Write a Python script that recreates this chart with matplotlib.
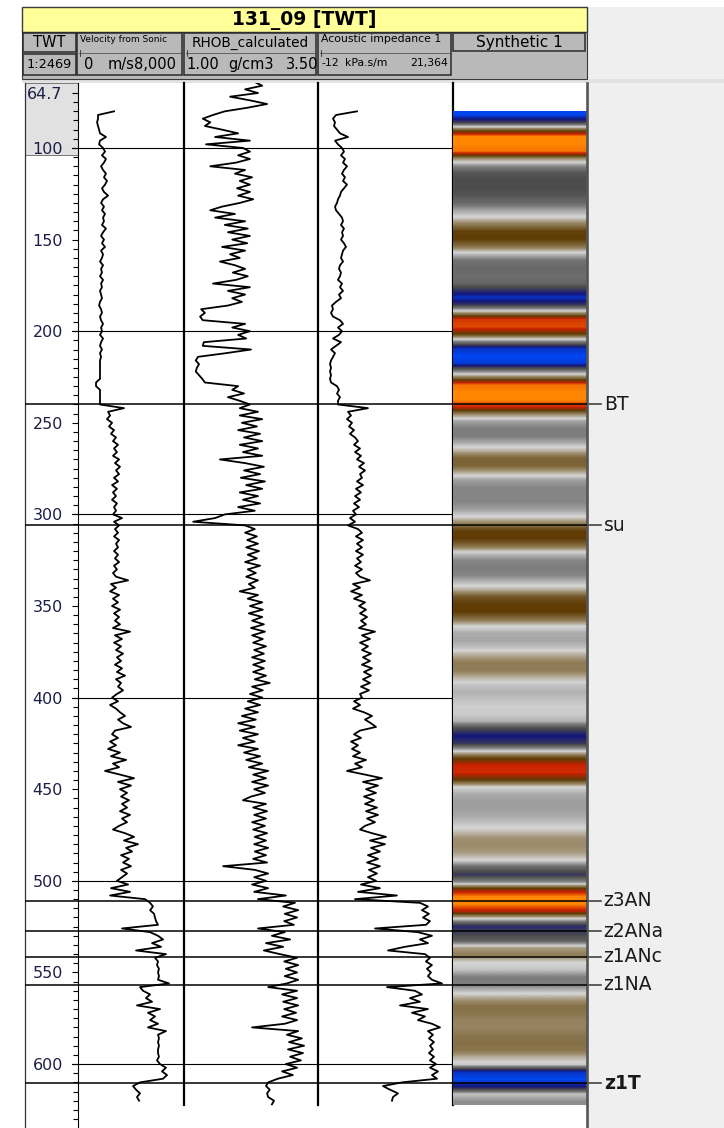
import numpy as np
import matplotlib.pyplot as plt
import matplotlib.transforms as mtransforms
from matplotlib.colors import LinearSegmentedColormap
from matplotlib.patches import Rectangle
from matplotlib.ticker import FixedLocator, FixedFormatter

plt.rcParams['font.family'] = ['DejaVu Sans']

W, H = 724, 1128
TWT_TOP, TWT_BOTTOM = 64.7, 634.9
TRACK_END = 622.5

# ---- log data, TWT in ms ----
vel_start, vel_step = 80, 2          # Velocity from Sonic [m/s]
velocity = [
    2720, 1510, 1510, 1440, 1510, 1590, 1660, 2110, 1660, 1590,
    1890, 2040, 1810, 2110, 1960, 1740, 1890, 2110, 1960, 2190,
    2040, 1810, 1960, 2270, 1890, 1740, 1960, 1810, 2040, 1890,
    1960, 1810, 2110, 1890, 1740, 1960, 1810, 2040, 1740, 1890,
    1810, 1660, 1890, 1740, 1810, 1660, 1890, 1740, 1810, 1660,
    1740, 1810, 1660, 1590, 1740, 1810, 1660, 1740, 1890, 1740,
    1810, 1660, 1890, 1740, 1660, 1810, 1660, 1740, 1660, 1660,
    1660, 1660, 1660, 1660, 1360, 1360, 1660, 1660, 1660, 1660,
    1660, 3470, 2270, 2420, 2190, 2570, 2340, 2720, 2490, 2870,
    2640, 3020, 2720, 2940, 2640, 3100, 2790, 3170, 2870, 3100,
    2720, 3020, 2570, 2940, 2640, 2870, 2570, 2940, 2720, 2870,
    2640, 3320, 2720, 3100, 2790, 3020, 2720, 3100, 2870, 3020,
    2720, 3020, 2790, 3100, 2720, 2940, 2640, 2870, 3780, 2490,
    2870, 2420, 3100, 2640, 3020, 2570, 3170, 2720, 3100, 2790,
    3170, 2640, 3930, 2790, 3320, 2720, 3250, 2870, 3400, 2940,
    3250, 2790, 3320, 2940, 3550, 2870, 3250, 3020, 3400, 2940,
    2570, 3020, 2420, 2870, 3170, 3550, 3020, 3400, 4000, 2790,
    2570, 3020, 2420, 2870, 2270, 3170, 2490, 3630, 2640, 3100,
    2040, 3170, 4230, 3020, 4000, 3170, 3700, 3250, 3850, 3320,
    3700, 3170, 3930, 3320, 3700, 3100, 2640, 3550, 4230, 3470,
    4530, 3630, 4080, 3250, 3850, 3400, 4000, 3250, 3700, 3320,
    2940, 3780, 2490, 3930, 2420, 5060, 5440, 5660, 5440, 5740,
    5810, 5890, 6040, 3320, 5440, 6040, 6420, 5590, 6270, 4380,
    6640, 5810, 6040, 5960, 6110, 6040, 6110, 6040, 6870, 4680,
    4910, 5440, 5130, 5590, 4450, 6190, 5280, 5810, 5440, 6040,
    5280, 6640, 6040, 6110, 6040, 6110, 6040, 6040, 6110, 5960,
    6190, 6640, 6340, 6720, 6420, 4680, 4150, 4380, 4680, 4450,
    4610,
]

rhob_start, rhob_step = 64, 2        # RHOB_calculated [g/cm3]
rhob = [
    2.32, 2.46, 2.14, 2.38, 1.86, 2.23, 2.55, 2.19, 1.76, 1.54,
    1.35, 1.49, 1.39, 1.71, 2.01, 1.58, 2.23, 1.41, 2.10, 2.23,
    2.01, 2.23, 1.97, 1.49, 2.14, 1.95, 2.27, 2.04, 2.23, 1.99,
    2.23, 2.01, 2.29, 2.04, 1.71, 1.49, 1.95, 1.58, 2.14, 1.76,
    2.19, 1.82, 2.23, 1.90, 2.18, 1.71, 2.14, 1.86, 2.04, 1.67,
    1.95, 2.14, 1.91, 2.19, 1.97, 1.54, 2.23, 1.82, 2.14, 1.90,
    2.08, 1.82, 1.32, 1.39, 1.30, 1.35, 2.14, 1.90, 2.23, 2.01,
    2.16, 1.37, 1.35, 2.25, 1.78, 1.26, 1.22, 1.28, 1.24, 1.22,
    1.28, 1.34, 1.39, 2.01, 1.90, 2.12, 1.82, 2.04, 2.23, 2.04,
    2.38, 2.04, 2.46, 2.08, 2.36, 2.01, 2.42, 2.12, 2.46, 2.04,
    2.38, 2.10, 2.46, 1.67, 2.14, 2.49, 2.12, 2.42, 2.06, 2.51,
    2.16, 2.46, 2.04, 2.38, 2.10, 2.42, 2.01, 2.32, 1.76, 1.58,
    1.17, 2.14, 2.32, 2.14, 2.36, 2.18, 2.38, 2.16, 2.40, 2.19,
    2.36, 2.14, 2.42, 2.19, 2.34, 2.16, 2.38, 2.21, 2.32, 2.04,
    2.38, 2.19, 2.46, 2.23, 2.47, 2.21, 2.46, 2.27, 2.49, 2.25,
    2.51, 2.27, 2.47, 2.29, 2.53, 2.31, 2.49, 2.27, 2.51, 2.29,
    2.49, 2.29, 2.53, 2.32, 2.60, 2.27, 2.47, 2.23, 2.46, 2.19,
    2.42, 2.14, 2.38, 2.08, 2.34, 2.01, 2.32, 2.04, 2.38, 2.10,
    2.32, 2.01, 2.38, 2.12, 2.42, 2.16, 2.46, 2.21, 2.57, 2.29,
    2.53, 2.27, 2.57, 2.31, 2.51, 2.25, 2.10, 2.53, 2.29, 2.55,
    2.31, 2.53, 2.27, 2.51, 2.29, 2.55, 2.32, 2.53, 2.31, 2.57,
    2.32, 2.53, 2.29, 2.55, 1.73, 2.32, 2.57, 2.31, 2.53, 2.27,
    2.57, 2.31, 2.90, 2.38, 3.07, 2.85, 3.13, 2.88, 3.11, 2.87,
    3.05, 2.38, 2.88, 2.64, 2.98, 2.53, 2.85, 2.49, 2.79, 3.11,
    2.87, 3.13, 2.90, 3.11, 2.88, 3.13, 2.92, 2.57, 3.11, 2.83,
    3.11, 2.85, 3.13, 2.87, 3.09, 2.83, 3.11, 2.88, 2.27, 3.13,
    2.92, 3.20, 2.96, 3.24, 2.94, 3.22, 2.98, 3.18, 2.90, 3.11,
    2.83, 3.03, 2.75, 2.57, 2.53, 2.60, 2.55, 2.57, 2.68, 2.64,
]

ai_start, ai_step = 80, 2            # Acoustic impedance 1 [kPa.s/m]
impedance = [
    6160, 2840, 2360, 2680, 2520, 3000, 3470, 4740, 2680, 3150,
    3790, 4100, 3630, 4260, 3950, 4580, 4100, 3790, 4260, 3950,
    4580, 4100, 3630, 3470, 3150, 3000, 2680, 2840, 3310, 3790,
    3950, 3630, 4100, 3790, 3950, 3630, 4100, 4420, 3950, 3790,
    3630, 3950, 3470, 3310, 3630, 3470, 3150, 3790, 3470, 3950,
    3310, 3630, 2840, 2200, 2360, 2050, 2360, 3470, 3950, 3150,
    3790, 3310, 2360, 3630, 2840, 2050, 2680, 2360, 2050, 1890,
    2050, 1890, 2050, 1890, 2050, 3000, 3310, 3000, 3470, 3150,
    3150, 7900, 4740, 5210, 4580, 5370, 4900, 5690, 5050, 5850,
    6320, 5690, 6640, 5850, 6790, 6160, 7270, 6480, 7430, 6640,
    6950, 6160, 7110, 6000, 6790, 5850, 6640, 5690, 6480, 5530,
    6000, 5050, 5850, 4740, 6320, 6950, 6000, 7110, 6160, 6950,
    6000, 7110, 6160, 6790, 5850, 6950, 6000, 6640, 8220, 5530,
    6640, 5210, 6950, 5690, 7430, 6480, 7590, 6640, 7750, 6790,
    7590, 6480, 9010, 6950, 8220, 6640, 7900, 6950, 8380, 7110,
    8220, 6950, 8540, 7270, 8380, 7110, 8220, 6790, 8060, 6640,
    6950, 5690, 6640, 5530, 7270, 8540, 7430, 8380, 9170, 6640,
    5690, 6790, 5210, 6320, 5370, 6640, 5530, 7590, 5850, 6950,
    4580, 7430, 10120, 7110, 9490, 7590, 9170, 7270, 8850, 7430,
    9330, 7590, 9490, 7750, 9010, 7430, 6640, 8540, 10750, 8220,
    10590, 8380, 9800, 7900, 9490, 7750, 9800, 8060, 9330, 7900,
    9170, 6790, 9800, 6320, 12490, 5850, 16130, 17400, 16450, 17560,
    16610, 17720, 17080, 9010, 15820, 18030, 16130, 17400, 13760, 11070,
    16920, 17720, 17080, 18030, 17240, 17870, 17400, 18030, 19620, 10910,
    15340, 16450, 14550, 16130, 12970, 17400, 14870, 16920, 15820, 18030,
    19300, 17400, 18190, 17560, 18350, 17720, 18190, 17560, 18350, 17720,
    18670, 17720, 18990, 18030, 18830, 13290, 10280, 11390, 12650, 11860,
    11700,
]

synth_start, synth_step = 80, 4      # Synthetic 1 (normalised amplitude)
synthetic = [
    -1.0, -0.6, 0.3, 1.0, 1.0, 0.95, 0.2, -0.2, -0.45, -0.5,
    -0.5, -0.45, -0.35, -0.15, 0.0, 0.25, 0.48, 0.5, 0.3, -0.05,
    -0.3, -0.35, -0.33, -0.35, -0.6, -0.9, -0.6, 0.1, 0.8, 0.85,
    0.5, -0.2, -0.9, -1.0, -0.95, -0.3, 0.3, 0.95, 1.0, 1.0,
    0.75, 0.2, -0.15, -0.25, -0.25, -0.1, 0.1, 0.35, 0.35, 0.1,
    -0.15, -0.22, -0.22, -0.22, -0.15, 0.0, 0.25, 0.5, 0.5, 0.3,
    -0.05, -0.22, -0.25, -0.22, -0.08, 0.1, 0.4, 0.5, 0.5, 0.3,
    0.0, -0.12, -0.13, -0.05, 0.12, 0.25, 0.25, 0.1, -0.05, -0.1,
    -0.06, -0.02, -0.03, -0.1, -0.5, -0.75, -0.6, -0.05, 0.45, 0.75,
    0.78, 0.5, 0.0, -0.12, -0.15, -0.15, -0.12, -0.05, 0.05, 0.18,
    0.2, 0.15, 0.0, -0.35, -0.6, -0.2, 0.6, 1.0, 1.0, 0.7,
    0.0, -0.65, -0.55, -0.4, 0.15, 0.25, 0.0, -0.05, -0.25, -0.25,
    -0.05, 0.15, 0.3, 0.28, 0.22, 0.22, 0.28, 0.3, 0.28, 0.1,
    -0.05, -0.9, -1.0, -0.75, -0.05, -0.2,
]

horizon_names = ['BT', 'su', 'z3AN', 'z2ANa', 'z1ANc', 'z1NA', 'z1T']
horizon_twt = [240.0, 305.8, 511.0, 527.4, 541.5, 556.6, 610.5]

depth_ticks = [70, 100, 150, 200, 250, 300, 350, 400, 450, 500, 550, 600]
depth_labels = ['64.7', '100', '150', '200', '250', '300', '350', '400',
                '450', '500', '550', '600']
grid_twt = [100, 200, 300, 400, 500, 600]

seis_cmap = LinearSegmentedColormap.from_list('synth', [
    (0.0, '#0046f0'), (0.125, '#14167a'), (0.25, '#4c4c4c'),
    (0.375, '#7c7c7c'), (0.5, '#d6d6d6'), (0.6, '#9a8a68'),
    (0.75, '#5e3c04'), (0.875, '#c82000'), (1.0, '#ff8600')])

fig = plt.figure(figsize=(W / 100, H / 100), dpi=100)

# ---- background + header (pixel coordinates) ----
bg = fig.add_axes([0, 0, 1, 1])
bg.set_xlim(0, W)
bg.set_ylim(H, 0)
bg.axis('off')
bg.add_patch(Rectangle((587, 7), W - 587, H - 7, fc='#efefef', ec='none'))
bg.add_patch(Rectangle((22, 79), W - 22, 4, fc='#e2e2e2', ec='none'))
bg.add_patch(Rectangle((22, 7), 565, 25, fc='#ffff99', ec='#3a3a3a', lw=1))
bg.text(304, 20, '131_09 [TWT]', ha='center', va='center',
        fontsize=13.5, fontweight='bold')
bg.add_patch(Rectangle((22, 32), 565, 47, fc='#b9b9b9', ec='#3a3a3a', lw=0.8))

cells = [(23, 33, 76, 52), (23, 54, 76, 75), (77, 33, 182, 75),
         (184, 33, 316, 75), (318, 33, 451, 75), (453, 33, 585, 51)]
for x0, y0, x1, y1 in cells:
    bg.add_patch(Rectangle((x0, y0), x1 - x0, y1 - y0, fc='#b9b9b9',
                           ec='#2a2a2a', lw=1.1))
for x0, x1 in [(77, 182), (184, 316), (318, 451)]:
    bg.plot([x0 + 2, x1 - 2], [53, 53], color='#555555', lw=0.6)
    bg.plot([x0 + 3, x0 + 3], [50, 56], color='#333333', lw=0.6)

bg.text(49, 42.5, 'TWT', ha='center', va='center', fontsize=10.5)
bg.text(49, 64.5, '1:2469', ha='center', va='center', fontsize=9.3)
bg.text(80, 39, 'Velocity from Sonic', ha='left', va='center', fontsize=6.5)
bg.text(250, 42.5, 'RHOB_calculated', ha='center', va='center', fontsize=9.8)
bg.text(321, 39, 'Acoustic impedance 1', ha='left', va='center', fontsize=7.8)
bg.text(519, 42, 'Synthetic 1', ha='center', va='center', fontsize=11)
bg.text(84, 64.5, '0', ha='left', va='center', fontsize=10.5)
bg.text(108, 64.5, 'm/s', ha='left', va='center', fontsize=10.5)
bg.text(176, 64.5, '8,000', ha='right', va='center', fontsize=10.5)
bg.text(186, 64.5, '1.00', ha='left', va='center', fontsize=10.5)
bg.text(251, 64.5, 'g/cm3', ha='center', va='center', fontsize=10.5)
bg.text(318, 64.5, '3.50', ha='right', va='center', fontsize=10.5)
bg.text(321, 63, '-12', ha='left', va='center', fontsize=7.8)
bg.text(345, 63, 'kPa.s/m', ha='left', va='center', fontsize=7.8)
bg.text(448, 63, '21,364', ha='right', va='center', fontsize=7.8)


def px_axes(x0, x1, y0=83.3, y1=H):
    return fig.add_axes([x0 / W, 1 - y1 / H, (x1 - x0) / W, (y1 - y0) / H])


ax_d = px_axes(25, 78)
ax_v = px_axes(78, 184)
ax_r = px_axes(184, 318)
ax_a = px_axes(318, 453)
ax_s = px_axes(453, 587)

for ax in (ax_d, ax_v, ax_r, ax_a, ax_s):
    ax.set_ylim(TWT_BOTTOM, TWT_TOP)
    ax.set_xticks([])
    ax.set_yticks([])
    ax.patch.set_visible(False)      # keep neighbouring spines uncovered
    for side in ('top', 'bottom', 'left', 'right'):
        ax.spines[side].set_visible(False)

ax_d.set_xlim(0, 1)
ax_d.spines['left'].set_visible(True)
ax_d.spines['left'].set_color('#333333')
ax_d.spines['left'].set_linewidth(0.9)
ax_d.axhspan(TWT_TOP, 103.8, fc='#e1e1e1', ec='#666666', lw=0.6)

ax_v.set_xlim(0, 8000)
ax_r.set_xlim(1.0, 3.5)
ax_a.set_xlim(-12, 21364)
ax_s.set_xlim(0, 1)

ax_v.spines['left'].set_visible(True)
ax_v.spines['left'].set_linewidth(0.8)
for ax in (ax_v, ax_r, ax_a):
    sp = ax.spines['right']
    sp.set_visible(True)
    sp.set_linewidth(1.6)
    sp.set_bounds(TWT_TOP, TRACK_END)
    sp.set_zorder(4)
ax_s.spines['right'].set_visible(True)
ax_s.spines['right'].set_color('#555555')
ax_s.spines['right'].set_linewidth(1.9)

# depth scale on the left edge of the first track
minor = [t for t in range(75, 635, 5) if t not in depth_ticks]
ax_v.yaxis.set_major_locator(FixedLocator(depth_ticks))
ax_v.yaxis.set_major_formatter(FixedFormatter(depth_labels))
ax_v.yaxis.set_minor_locator(FixedLocator(minor))
ax_v.tick_params(axis='y', which='major', direction='out', length=4.4,
                 width=0.8, pad=6.5, labelsize=11.5, labelcolor='#1e1e48')
ax_v.tick_params(axis='y', which='minor', direction='out', length=3.3,
                 width=0.8)

# grid lines
for d in grid_twt:
    ax_d.axhline(d, xmin=0.887, color='k', lw=0.8)
    for ax in (ax_v, ax_r, ax_a):
        ax.axhline(d, color='k', lw=0.8)

# synthetic seismogram
syn = np.array(synthetic)[:, None]
ax_s.imshow(syn, cmap=seis_cmap, vmin=-1, vmax=1, aspect='auto',
            extent=(0, 1, TRACK_END, synth_start), interpolation='bilinear',
            interpolation_stage='data', zorder=0)
ax_s.set_xlim(0, 1)
ax_s.set_ylim(TWT_BOTTOM, TWT_TOP)

# logs
logs = [(ax_v, velocity, vel_start, vel_step),
        (ax_r, rhob, rhob_start, rhob_step),
        (ax_a, impedance, ai_start, ai_step)]
for ax, vals, start, step in logs:
    twt = start + step * np.arange(len(vals))
    ax.plot(vals, twt, color='black', lw=1.3)

# horizons
trans = mtransforms.blended_transform_factory(ax_s.transAxes, ax_s.transData)
for name, d in zip(horizon_names, horizon_twt):
    for ax in (ax_d, ax_v, ax_r, ax_a, ax_s):
        ax.axhline(d, color='k', lw=1.1, zorder=3)
    ax_s.plot([1.0, 1.105], [d, d], color='#333333', lw=1.1,
              transform=trans, clip_on=False)
    ax_s.text(1.125, d, name, transform=trans, ha='left', va='center',
              fontsize=13.5, color='#1a1a1a', clip_on=False,
              fontweight='bold' if name == 'z1T' else 'normal')

fig.savefig('out.png', dpi=100)
